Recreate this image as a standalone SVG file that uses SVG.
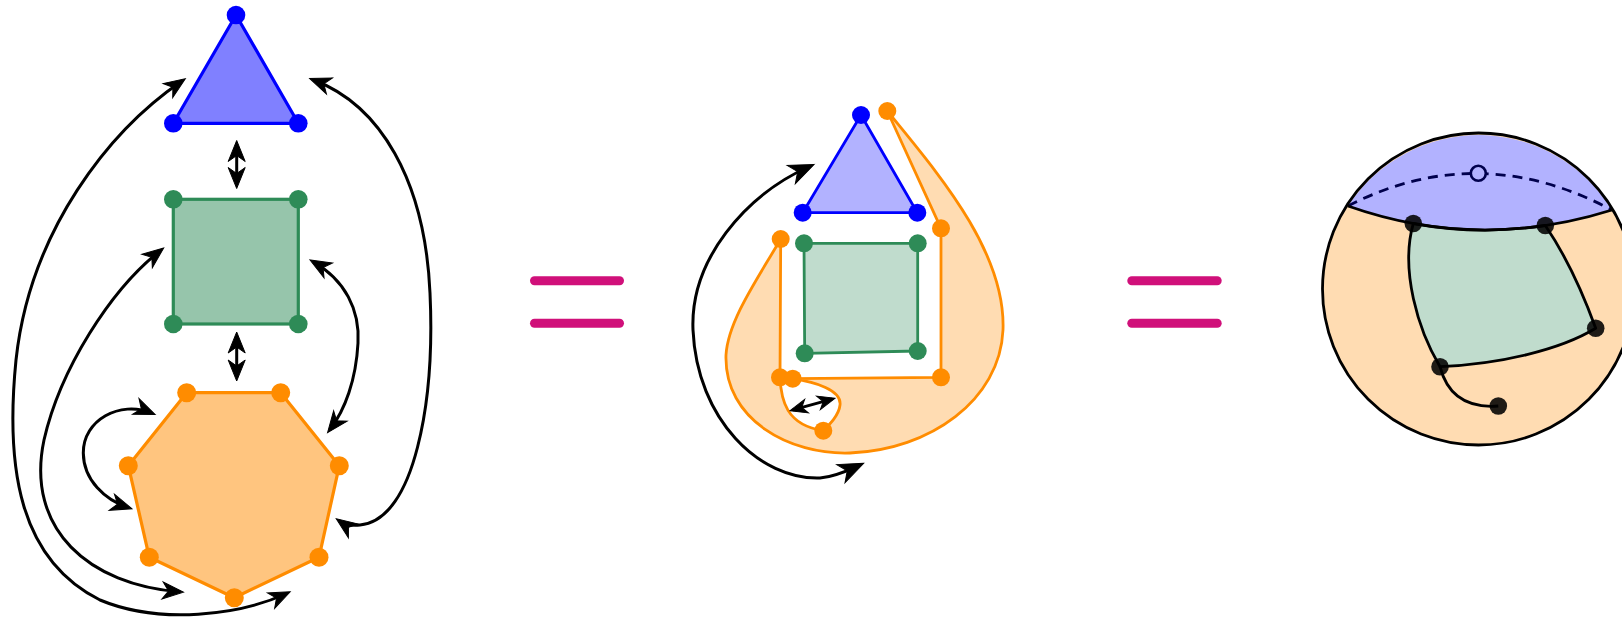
<svg xmlns="http://www.w3.org/2000/svg" width="1622" height="622" viewBox="0 0 1622 622">
<defs>
<marker id="ah" viewBox="-20 -10 26 20" refX="0" refY="0" markerWidth="26" markerHeight="20" markerUnits="userSpaceOnUse" orient="auto-start-reverse">
<path d="M4,0 L-17,-8.5 L-11,0 L-17,8.5 Z" fill="#000" stroke="#000" stroke-width="1" stroke-linejoin="miter"/>
</marker>
<marker id="ahL" viewBox="-24 -12 31 24" refX="0" refY="0" markerWidth="31" markerHeight="24" markerUnits="userSpaceOnUse" orient="auto-start-reverse">
<path d="M4,0 L-21,-10 L-14,0 L-21,10 Z" fill="#000" stroke="#000" stroke-width="1" stroke-linejoin="miter"/>
</marker>
<marker id="ahS" viewBox="-17 -8 22 16" refX="0" refY="0" markerWidth="22" markerHeight="16" markerUnits="userSpaceOnUse" orient="auto-start-reverse">
<path d="M3,0 L-14,-7 L-9,0 L-14,7 Z" fill="#000" stroke="#000" stroke-width="1" stroke-linejoin="miter"/>
</marker>
<style>
.arr{fill:none;stroke:#000;stroke-width:3;marker-start:url(#ah);marker-end:url(#ah)}
.arrL{fill:none;stroke:#000;stroke-width:3;marker-start:url(#ahL);marker-end:url(#ahL)}
.arrS{fill:none;stroke:#000;stroke-width:3;marker-start:url(#ahS);marker-end:url(#ahS)}
.bd{fill:#0000ff}
.gd{fill:#2e8b57}
.od{fill:#ff8c00}
.kd{fill:#000;fill-opacity:0.88}
.eq{stroke:#d0107a;stroke-width:9;stroke-linecap:round}
</style>
</defs>
<rect width="1622" height="622" fill="#fff"/>

<g id="left-triangle">
<polygon points="236,15 173.3,123.3 298.3,123.3" fill="#8080ff" stroke="#0000ff" stroke-width="3.2" stroke-linejoin="round"/>
<circle class="bd" cx="236" cy="15" r="9.3"/><circle class="bd" cx="173.3" cy="123.3" r="9.3"/><circle class="bd" cx="298.3" cy="123.3" r="9.3"/>
</g>
<g id="left-square">
<rect x="173.3" y="199.3" width="125" height="124.7" fill="#96c5ab" stroke="#2e8b57" stroke-width="3.2"/>
<circle class="gd" cx="173.3" cy="199.3" r="9.3"/><circle class="gd" cx="298.3" cy="199.3" r="9.3"/><circle class="gd" cx="173.3" cy="324" r="9.3"/><circle class="gd" cx="298.3" cy="324" r="9.3"/>
</g>
<g id="left-heptagon">
<polygon points="186.7,392.7 280.7,392.7 339.3,465.7 319,557.3 234.3,597.7 149.3,557.3 128.3,465.7" fill="#ffc57f" stroke="#ff8c00" stroke-width="3.2" stroke-linejoin="round"/>
<circle class="od" cx="186.7" cy="392.7" r="9.5"/><circle class="od" cx="280.7" cy="392.7" r="9.5"/><circle class="od" cx="339.3" cy="465.7" r="9.5"/><circle class="od" cx="319" cy="557.3" r="9.5"/><circle class="od" cx="234.3" cy="597.7" r="9.5"/><circle class="od" cx="149.3" cy="557.3" r="9.5"/><circle class="od" cx="128.3" cy="465.7" r="9.5"/>
</g>
<g id="left-connectors">
<path class="arr" d="M236.7,144.5 L236.7,184.5"/>
<path class="arr" d="M236.7,336 L236.7,377"/>
<path class="arr" d="M182,81 C 110,130 30,230 16,360 C 5,470 20,560 100,600 C 160,625 240,615 286.5,593.5"/>
<path class="arr" d="M160.5,250.5 C 110,290 60,370 44,440 C 25,530 90,585 179.5,591.8"/>
<path class="arr" d="M151.5,413 C 120,400 83,420 83.3,453 C 83.5,480 105,500 128,507.5"/>
<path class="arr" d="M313.5,262 C 345,280 360,310 358,343 C 356,380 345,410 330,429.5"/>
<path class="arr" d="M313.5,80 C 380,105 425,180 430,293 C 435,400 415,520 360,525 C 350,526 343,523.5 339.5,521"/>
</g>

<g id="equals-1">
<line class="eq" x1="534.5" y1="280.7" x2="619.5" y2="280.7"/>
<line class="eq" x1="534.5" y1="323.3" x2="619.5" y2="323.3"/>
</g>

<g id="middle-orange-region">
<path d="M780.7,239 C 760,275 728,320 726,355 C 724,420 790,455 850,453 C 930,450 1000,400 1003,330 C 1006,250 935,170 887.3,111 L941,228.3 L941,377.3 L792.7,378.7 C 815,382 842,390 840,405 C 839,415 830,424 823.3,430.7 C 786,425 781,400 780,377.3 Z" fill="#ffdcb2" stroke="none"/>
<path d="M780.7,239 C 760,275 728,320 726,355 C 724,420 790,455 850,453 C 930,450 1000,400 1003,330 C 1006,250 935,170 887.3,111" fill="none" stroke="#ff8c00" stroke-width="2.8"/>
<path d="M887.3,111 L941,228.3 L941,377.3 L792.7,378.7 M780.7,239 L780,377.3 M792.7,378.7 C 815,382 842,390 840,405 C 839,415 830,424 823.3,430.7 M780,377.3 C 781,400 786,425 823.3,430.7" fill="none" stroke="#ff8c00" stroke-width="2.8" stroke-linejoin="round"/>
</g>
<g id="middle-triangle">
<polygon points="861,115 802.7,212.7 917.3,212.7" fill="#b2b2ff" stroke="#0000ff" stroke-width="2.8" stroke-linejoin="round"/>
<circle class="bd" cx="861" cy="115" r="9"/><circle class="bd" cx="802.7" cy="212.7" r="9"/><circle class="bd" cx="917.3" cy="212.7" r="9"/>
</g>
<g id="middle-square">
<polygon points="804,243.3 917.7,243.3 917.7,351 804.7,353.3" fill="#c0dccd" stroke="#2e8b57" stroke-width="2.8" stroke-linejoin="round"/>
<circle class="gd" cx="804" cy="243.3" r="9"/><circle class="gd" cx="917.7" cy="243.3" r="9"/><circle class="gd" cx="917.7" cy="351" r="9"/><circle class="gd" cx="804.7" cy="353.3" r="9"/>
</g>
<g id="middle-orange-dots">
<circle class="od" cx="887.3" cy="111" r="9"/><circle class="od" cx="941" cy="228.3" r="9"/><circle class="od" cx="780.7" cy="239" r="9"/><circle class="od" cx="780" cy="377.3" r="9"/><circle class="od" cx="792.7" cy="378.7" r="9"/><circle class="od" cx="941" cy="377.3" r="9"/><circle class="od" cx="823.3" cy="430.7" r="9"/>
</g>
<g id="middle-connectors">
<path class="arrL" d="M810.5,166 C 745,195 690,260 693,330 C 697,420 760,480 820,478 C 835,477 849,470 860,465"/>
<path class="arrS" d="M793,409.9 L832,399.1"/>
</g>

<g id="equals-2">
<line class="eq" x1="1131.8" y1="280.7" x2="1217.2" y2="280.7"/>
<line class="eq" x1="1131.8" y1="323.3" x2="1217.2" y2="323.3"/>
</g>

<g id="sphere">
<circle cx="1478.5" cy="289" r="156" fill="#ffdcb2"/>
<path d="M1348,206 Q1478,252 1612,210 A156,156 0 0 0 1348,206 Z" fill="#b2b2ff"/>
<path d="M1348,206 Q1478,139 1612,210" fill="none" stroke="#00004d" stroke-width="2.8" stroke-dasharray="10,7"/>
<circle cx="1478.3" cy="173.3" r="7.5" fill="#b2b2ff" stroke="#00004d" stroke-width="2.6"/>
<path d="M1413.3,223.5 Q1478.75,235.5 1545.3,225.5 C 1562,250 1580,285 1595.7,328.3 C 1560,350 1500,364 1440,366.7 C 1418,330 1400,270 1413.3,223.5 Z" fill="#c0dccd" stroke="#000" stroke-width="2.8" stroke-linejoin="round"/>
<path d="M1348,206 Q1478,252 1612,210" fill="none" stroke="#000" stroke-width="2.8"/>
<path d="M1440,366.7 Q1451,409.6 1498.3,406" fill="none" stroke="#000" stroke-width="2.8"/>
<circle cx="1478.5" cy="289" r="156" fill="none" stroke="#000" stroke-width="2.8"/>
<circle class="kd" cx="1413.3" cy="223.5" r="8.8"/><circle class="kd" cx="1545.3" cy="225.5" r="8.8"/><circle class="kd" cx="1595.7" cy="328.3" r="8.8"/><circle class="kd" cx="1440" cy="366.7" r="8.8"/><circle class="kd" cx="1498.3" cy="406" r="8.8"/>
</g>
</svg>
